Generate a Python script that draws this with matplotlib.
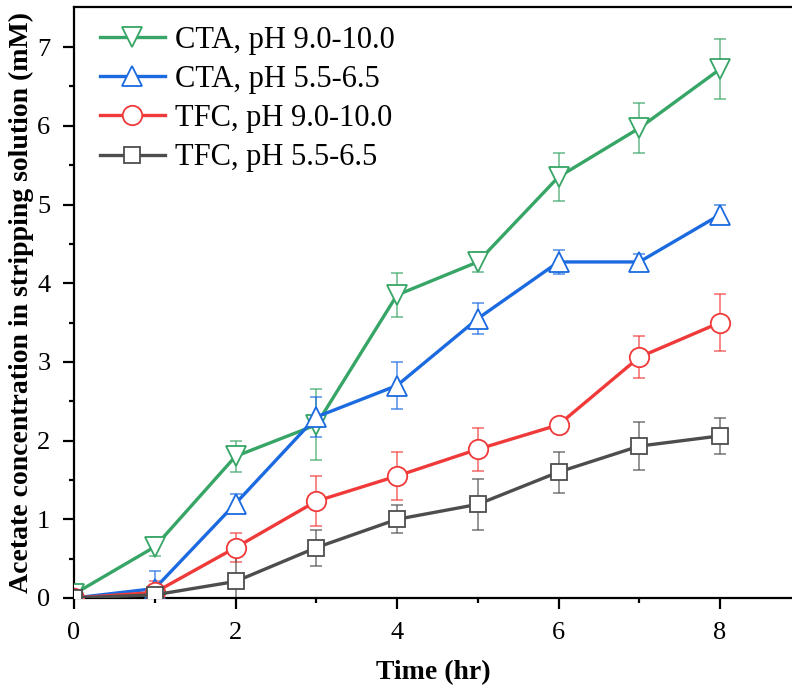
import matplotlib
matplotlib.use("Agg")
import matplotlib.pyplot as plt

plt.rcParams['font.family'] = ['Liberation Serif', 'DejaVu Serif']

time = [0, 1, 2, 3, 4, 5, 6, 7, 8]

labels = ["CTA, pH 9.0-10.0", "CTA, pH 5.5-6.5", "TFC, pH 9.0-10.0", "TFC, pH 5.5-6.5"]

cta_high = [0.05, 0.65, 1.80, 2.20, 3.85, 4.27, 5.35, 5.97, 6.72]
cta_high_err = [0.05, 0.12, 0.20, 0.45, 0.28, 0.13, 0.30, 0.32, 0.38]

cta_low = [0.00, 0.12, 1.20, 2.30, 2.70, 3.55, 4.27, 4.27, 4.87]
cta_low_err = [0.10, 0.22, 0.12, 0.25, 0.30, 0.20, 0.15, 0.10, 0.12]

tfc_high = [0.00, 0.07, 0.64, 1.23, 1.55, 1.89, 2.20, 3.06, 3.50]
tfc_high_err = [0.05, 0.15, 0.18, 0.32, 0.30, 0.27, 0.05, 0.27, 0.36]

tfc_low = [0.00, 0.04, 0.21, 0.64, 1.00, 1.19, 1.60, 1.93, 2.06]
tfc_low_err = [0.03, 0.05, 0.38, 0.23, 0.18, 0.32, 0.26, 0.30, 0.23]

series = [
    (cta_high, cta_high_err, "#36a566", "v", 15),
    (cta_low, cta_low_err, "#1b6ae0", "^", 15),
    (tfc_high, tfc_high_err, "#f03a3a", "o", 14),
    (tfc_low, tfc_low_err, "#4d4d4d", "s", 12),
]

fig = plt.figure(figsize=(7.92, 6.91), dpi=100)
ax = fig.add_axes([74/792, 93/691, 1 - 74/792, (598-7)/691])

for (y, e, c, m, ms), lab in zip(series, labels):
    ax.errorbar(time, y, yerr=e, fmt='none', ecolor=c, elinewidth=1.2,
                capsize=4.5, capthick=1.2, alpha=0.7, zorder=2)
    ax.plot(time, y, color=c, lw=2.4, marker=m, ms=ms, mfc='white',
            mec=c, mew=1.3, label=lab, zorder=3)

ax.set_xlim(0, (792-74)/80.75)
ax.set_ylim(0, (598-7)/78.7)
ax.set_xticks([0, 2, 4, 6, 8])
ax.set_xticks([1, 3, 5, 7], minor=True)
ax.set_yticks(range(0, 8))
ax.set_yticks([0.5 + i for i in range(7)], minor=True)

ax.spines['right'].set_visible(False)
for s in ['left', 'bottom', 'top']:
    ax.spines[s].set_linewidth(1.6)

ax.tick_params(which='major', direction='out', length=8, width=1.6,
               labelsize=19, pad=9)
ax.tick_params(which='minor', direction='out', length=3.8, width=1.6)
ax.tick_params(top=False, right=False)

ax.set_xlabel("Time (hr)", fontsize=20, fontweight='bold', labelpad=12)
ax.set_ylabel("Acetate concentration in stripping solution (mM)",
              fontsize=20, fontweight='bold', labelpad=2)

leg = ax.legend(loc='upper left', fontsize=22, frameon=False,
                handlelength=2.1, handletextpad=0.33, labelspacing=0.33,
                borderaxespad=0.3, bbox_to_anchor=(0.007, 1.004))

fig.savefig("out.png", dpi=100)
